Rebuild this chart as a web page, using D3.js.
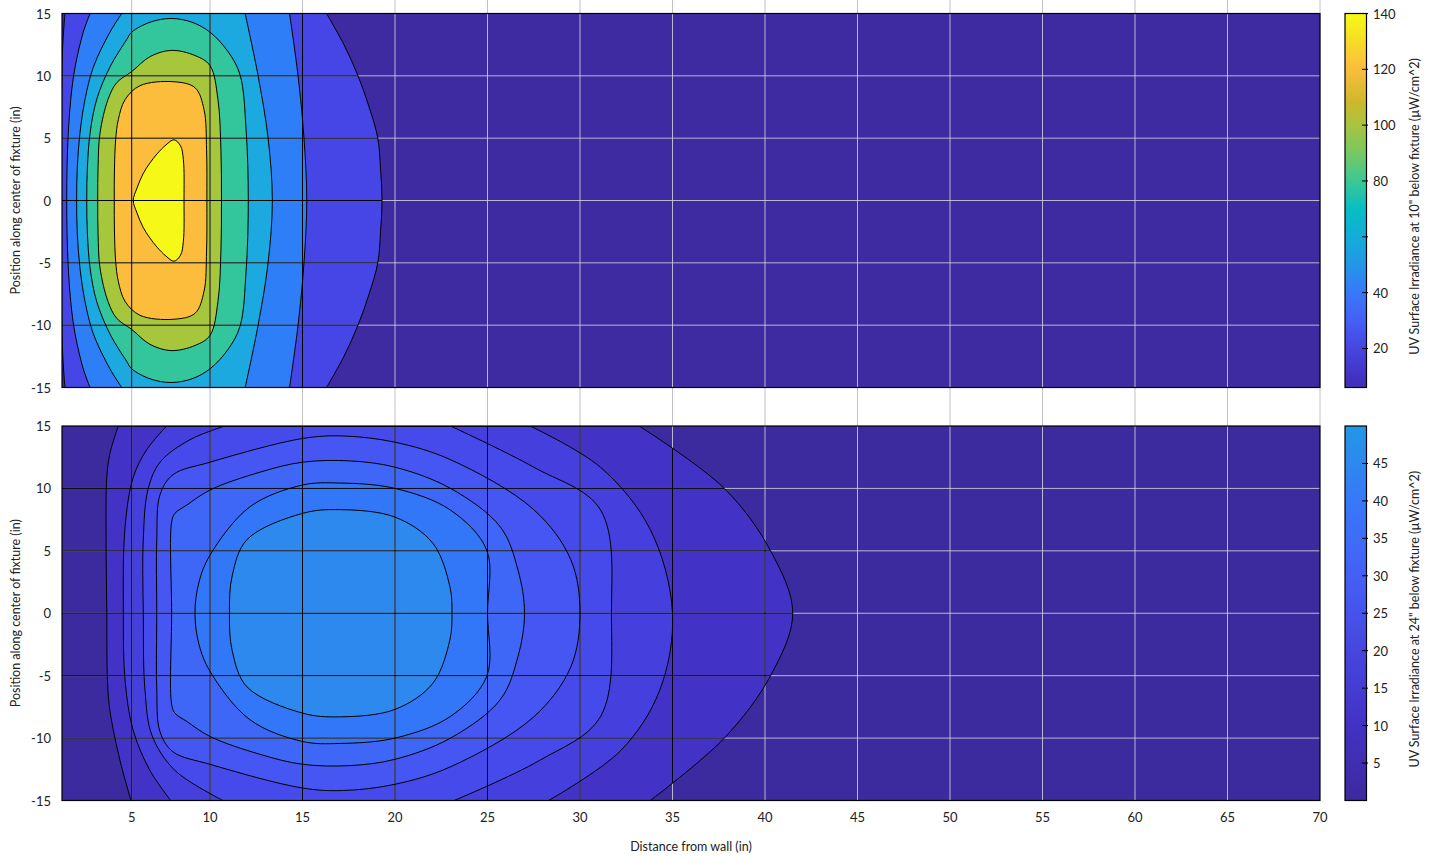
<!DOCTYPE html>
<html>
<head>
<meta charset="utf-8">
<script src="https://cdn.jsdelivr.net/npm/d3@7"></script>
<style>
body { margin: 0; background: #fff; }
text { font-family: Lato, "Noto Sans", sans-serif; fill: #222; }
</style>
</head>
<body>
<svg id="chart" width="1440" height="857"></svg>
<script>
var xTicks = [5, 10, 15, 20, 25, 30, 35, 40, 45, 50, 55, 60, 65, 70];
var yTicks = [-15, -10, -5, 0, 5, 10, 15];
var topBarTicks = [20, 40, 60, 80, 100, 120, 140];
var topBarLabels = ["20", "40", "", "80", "100", "120", "140"];
var botBarTicks = [5, 10, 15, 20, 25, 30, 35, 40, 45];

// contour lines, [distance, position]
// open contours run into the top and bottom edge: left and right side, each top to bottom
var topC1L = [[1.17,15],[1.06,12.9],[1.0,10.7],[1.0,-10.7],[1.06,-12.9],[1.17,-15]];
var topC1R = [[16.3,15],[17.24,12.5],[18.0,10],[18.6,7.5],[19.07,5],[19.22,2.5],[19.3,0],[19.22,-2.5],[19.07,-5],[18.6,-7.5],[18.0,-10],[17.24,-12.5],[16.3,-15]];
var topC2L = [[2.61,15],[2.22,13.5],[1.75,10.7],[1.5,8.1],[1.36,5.4],[1.29,2.7],[1.27,0],[1.29,-2.7],[1.36,-5.4],[1.5,-8.1],[1.75,-10.7],[2.22,-13.5],[2.61,-15]];
var topC2R = [[14.3,15],[14.76,10],[15.08,5],[15.23,0],[15.08,-5],[14.76,-10],[14.3,-15]];
var topC3L = [[4.43,15],[3.75,13.5],[2.8,10.7],[2.32,8.1],[2.03,5.4],[1.88,2.7],[1.84,0],[1.88,-2.7],[2.03,-5.4],[2.32,-8.1],[2.8,-10.7],[3.75,-13.5],[4.43,-15]];
var topC3R = [[11.9,15],[12.6,10],[13.14,5],[13.37,0],[13.14,-5],[12.6,-10],[11.9,-15]];
// closed contours
var topC4 = [[2.42,0],[2.46,2.7],[2.61,5.4],[2.99,8.1],[3.75,10.7],[4.71,12.9],[5.0,13.5],[6.17,14.3],[7.51,14.6],[8.85,14.3],[10.0,13.5],[10.97,11.95],[11.62,10.1],[11.95,5.7],[12.07,0],
             [11.95,-5.7],[11.62,-10.1],[10.97,-11.95],[10.0,-13.5],[8.85,-14.3],[7.51,-14.6],[6.17,-14.3],[5.0,-13.5],[4.71,-12.9],[3.75,-10.7],[2.99,-8.1],[2.61,-5.4],[2.46,-2.7]];
var topC5 = [[3.05,0],[3.07,2.7],[3.18,5.4],[3.64,8.1],[4.14,9.45],[5.0,10.34],[6.17,11.54],[7.51,12.04],[9.04,11.63],[10.0,10.82],[10.43,8.1],[10.59,4.06],[10.62,0],
             [10.59,-4.06],[10.43,-8.1],[10.0,-10.82],[9.04,-11.63],[7.51,-12.04],[6.17,-11.54],[5.0,-10.34],[4.14,-9.45],[3.64,-8.1],[3.18,-5.4],[3.07,-2.7]];
var topC6 = [[4.0,0],[4.01,2.45],[4.08,4.87],[4.23,6.48],[4.62,8.09],[5.53,9.21],[7.64,9.53],[9.04,9.05],[9.62,7.28],[9.78,4.06],[9.8,0],
             [9.78,-4.06],[9.62,-7.28],[9.04,-9.05],[7.64,-9.53],[5.53,-9.21],[4.62,-8.09],[4.23,-6.48],[4.08,-4.87],[4.01,-2.45]];
var topC7 = [[5.1,0],[5.34,1.0],[5.72,2.13],[6.17,3.02],[6.62,3.74],[7.19,4.46],[7.7,4.87],[8.12,4.38],[8.3,3.26],[8.34,0],
             [8.3,-3.26],[8.12,-4.38],[7.7,-4.87],[7.19,-4.46],[6.62,-3.74],[6.17,-3.02],[5.72,-2.13],[5.34,-1.0]];

var botC1L = [[4.23,15],[3.75,12.8],[3.57,10.9],[3.53,5.9],[3.57,0],[3.61,-5.4],[3.75,-7.8],[4.33,-11.8],[4.96,-15]];
var botC1R = [[33.2,15],[37.8,10],[40.3,5],[41.5,0],[40.3,-5],[37.8,-10],[33.8,-15]];
var botC2L = [[7.23,15],[5.96,13.1],[5.1,10.9],[4.62,6.9],[4.52,0],[4.62,-5.4],[5.1,-9.4],[6.17,-12.6],[7.49,-15]];
var botC2R = [[27.3,15],[31.1,11.7],[33.8,6.7],[35.0,0],[34.3,-6.2],[32.2,-11.0],[28.3,-15]];
var botC3L = [[10.8,15],[8.72,13.9],[6.81,12.1],[6.04,9.9],[5.74,5.9],[5.74,0],[5.85,-6.2],[6.3,-9.8],[7.77,-12.6],[10.7,-15]];
var botC3R = [[23.0,15],[27.5,11.7],[31.1,8.3],[31.7,0],[31.1,-8.3],[27.8,-11.8],[23.2,-15]];
var botC4 = [[6.6,0],[6.6,5.9],[6.81,9.5],[7.64,11.1],[10,12.1],[15,14.0],[17.2,14.2],[20,13.7],[23,12.3],[27.5,8.3],[29.5,4.3],[30,0],
             [29.5,-4.3],[27.5,-8.3],[23,-12.3],[20,-13.7],[17.2,-14.2],[15,-14.0],[10,-12.1],[7.64,-11.1],[6.81,-9.5],[6.6,-5.9]];
var botC5 = [[7.55,0],[7.55,7.3],[7.76,8.0],[8.51,8.66],[10,9.87],[12.7,11.3],[15,12.1],[17.6,12.2],[20,11.7],[23,10],[25.7,6.9],[26.65,3.45],[27.0,0],
             [26.65,-3.45],[25.7,-6.9],[23,-10],[20,-11.7],[17.6,-12.2],[15,-12.1],[12.7,-11.3],[10,-9.87],[8.51,-8.66],[7.76,-8.0],[7.55,-7.3]];
var botC6 = [[9.04,0],[9.3,2.5],[10,4.65],[12.16,8.53],[15,10.27],[17,10.43],[20,10],[23,8.26],[24.96,5.05],[25,0],
             [24.96,-5.05],[23,-8.26],[20,-10],[17,-10.43],[15,-10.27],[12.16,-8.53],[10,-4.65],[9.3,-2.5]];
var botC7 = [[11.05,0],[11.2,3],[12,5.9],[15,8.0],[17,8.3],[20,7.7],[22.05,5.6],[22.97,2.1],[23.08,0],
             [22.97,-2.1],[22.05,-5.6],[20,-7.7],[17,-8.3],[15,-8.0],[12,-5.9],[11.2,-3]];

var topContours = [{left: topC1L, right: topC1R}, {left: topC2L, right: topC2R}, {left: topC3L, right: topC3R}, topC4, topC5, topC6, topC7];
var botContours = [{left: botC1L, right: botC1R}, {left: botC2L, right: botC2R}, {left: botC3L, right: botC3R}, botC4, botC5, botC6, botC7];

// band colours, lowest first
var topFills = ["#3e2aa1", "#4646e6", "#2e7ff7", "#1ba9df", "#33c59c", "#a6c63b", "#fdbd3c", "#f6f917"];
var botFills = ["#3c2a9f", "#4232c6", "#4540dd", "#464aea", "#4556f2", "#3e66f7", "#3277f8", "#2d89ee"];

// colour map of the colour bars
var cmapStops = [0, 10, 20, 30, 40, 50, 60, 70, 80, 90, 100, 108, 120, 130, 140];
var cmapColors = ["#3d2a9e", "#4332c4", "#4646e0", "#4560f5", "#3878f8", "#2397e6", "#14acd8", "#06bec4",
                  "#3cc893", "#78c862", "#a8c440", "#ccb82c", "#fcbc3c", "#f6dc28", "#f8fa14"];

var svg = d3.select("#chart");
var defs = svg.append("defs");
var x = d3.scaleLinear().domain([1, 5, 10, 70]).range([62, 131.7, 210, 1320]);
var cmap = d3.scaleLinear().domain(cmapStops).range(cmapColors);

// grey grid runs above and between the panels
svg.append("g").selectAll("line").data(xTicks).join("line")
    .attr("x1", d => x(d)).attr("x2", d => x(d))
    .attr("y1", 0).attr("y2", 426)
    .attr("stroke", "#c2c2c2");

var panels = [
    {top: 13.5, bottom: 387.5, contours: topContours, fills: topFills, barDomain: [6, 140],
     barTicks: topBarTicks, barLabels: topBarLabels, barTitle: "UV Surface Irradiance at 10\" below fixture (µW/cm^2)"},
    {top: 426, bottom: 800.5, contours: botContours, fills: botFills, barDomain: [0, 50],
     barTicks: botBarTicks, barLabels: botBarTicks.map(String), barTitle: "UV Surface Irradiance at 24\" below fixture (µW/cm^2)"}
];

panels.forEach(function(p, i) {
    var y = d3.scaleLinear().domain([-15, 15]).range([p.bottom, p.top]);
    var openLine = d3.line().x(d => x(d[0])).y(d => y(d[1])).curve(d3.curveCatmullRom.alpha(0.5));
    var loopLine = d3.line().x(d => x(d[0])).y(d => y(d[1])).curve(d3.curveCatmullRomClosed.alpha(0.5));
    function shape(c) {
        if (Array.isArray(c)) return loopLine(c);
        return openLine(c.left) + openLine(c.right.slice().reverse()).replace("M", "L") + "Z";
    }

    defs.append("clipPath").attr("id", "plot" + i).append("rect")
        .attr("x", x(1)).attr("y", p.top)
        .attr("width", x(70) - x(1)).attr("height", p.bottom - p.top);
    // area that carries filled patches: left of the outermost contour
    var left = x(1) - 10;
    defs.append("clipPath").attr("id", "patch" + i).append("path")
        .attr("d", openLine(p.contours[0].right) + "L" + left + "," + (p.bottom + 10) + "L" + left + "," + (p.top - 10) + "Z");

    var g = svg.append("g").attr("clip-path", "url(#plot" + i + ")");
    g.append("rect")
        .attr("x", x(1)).attr("y", p.top)
        .attr("width", x(70) - x(1)).attr("height", p.bottom - p.top)
        .attr("fill", p.fills[0]);
    g.selectAll("path.band").data(p.contours).join("path")
        .attr("class", "band")
        .attr("d", shape)
        .attr("fill", (d, j) => p.fills[j + 1]);

    // grid: light over the bare background, black over the patches
    var gx = xTicks.filter(d => d < 70), gy = yTicks.filter(d => Math.abs(d) < 15);
    [["#d0d0d8", null], ["#000", "url(#patch" + i + ")"]].forEach(function(s) {
        var gg = g.append("g").attr("clip-path", s[1]);
        gg.selectAll("line.v").data(gx).join("line").attr("class", "v")
            .attr("x1", d => x(d)).attr("x2", d => x(d))
            .attr("y1", p.top).attr("y2", p.bottom)
            .attr("stroke", s[0]).attr("stroke-opacity", s[1] ? 1 : 0.85);
        gg.selectAll("line.h").data(gy).join("line").attr("class", "h")
            .attr("x1", x(1)).attr("x2", x(70))
            .attr("y1", d => y(d)).attr("y2", d => y(d))
            .attr("stroke", s[0]).attr("stroke-opacity", s[1] ? 1 : 0.85);
    });

    g.selectAll("path.line").data(p.contours).join("path")
        .attr("class", "line")
        .attr("d", shape)
        .attr("fill", "none")
        .attr("stroke", "#000")
        .attr("stroke-width", 1);

    svg.append("rect")
        .attr("x", x(1)).attr("y", p.top)
        .attr("width", x(70) - x(1)).attr("height", p.bottom - p.top)
        .attr("fill", "none").attr("stroke", "#000").attr("stroke-width", 1.2);

    svg.append("g").selectAll("text").data(yTicks).join("text")
        .attr("x", 51).attr("y", d => y(d))
        .attr("text-anchor", "end").attr("dominant-baseline", "central")
        .attr("font-size", 13)
        .text(d => d);

    svg.append("text")
        .attr("transform", "translate(15," + ((p.top + p.bottom) / 2) + ") rotate(-90)")
        .attr("text-anchor", "middle").attr("dominant-baseline", "central")
        .attr("font-size", 12.5)
        .text("Position along center of fixture (in)");

    // colour bar
    var cb = d3.scaleLinear().domain(p.barDomain).range([p.bottom, p.top]);
    var grad = defs.append("linearGradient").attr("id", "grad" + i)
        .attr("x1", 0).attr("y1", 1).attr("x2", 0).attr("y2", 0);
    grad.selectAll("stop").data(d3.range(0, 1.001, 0.02)).join("stop")
        .attr("offset", d => d)
        .attr("stop-color", d => cmap(p.barDomain[0] + d * (p.barDomain[1] - p.barDomain[0])));
    svg.append("rect")
        .attr("x", 1345).attr("y", p.top)
        .attr("width", 21.5).attr("height", p.bottom - p.top)
        .attr("fill", "url(#grad" + i + ")")
        .attr("stroke", "#000").attr("stroke-width", 1.2);
    svg.append("g").selectAll("line").data(p.barTicks).join("line")
        .attr("x1", 1362).attr("x2", 1368)
        .attr("y1", d => cb(d)).attr("y2", d => cb(d))
        .attr("stroke", "#000");
    svg.append("g").selectAll("text").data(p.barTicks).join("text")
        .attr("x", 1373).attr("y", d => cb(d))
        .attr("dominant-baseline", "central")
        .attr("font-size", 13)
        .text((d, j) => p.barLabels[j]);
    svg.append("text")
        .attr("transform", "translate(1414," + ((p.top + p.bottom) / 2 + 6) + ") rotate(-90)")
        .attr("text-anchor", "middle").attr("dominant-baseline", "central")
        .attr("font-size", 12.5)
        .text(p.barTitle);

    if (i === 1) {
        svg.append("g").selectAll("text").data(xTicks).join("text")
            .attr("x", d => x(d)).attr("y", 817)
            .attr("text-anchor", "middle").attr("dominant-baseline", "central")
            .attr("font-size", 13)
            .text(d => d);
        svg.append("text")
            .attr("x", (x(1) + x(70)) / 2).attr("y", 846)
            .attr("text-anchor", "middle").attr("dominant-baseline", "central")
            .attr("font-size", 12.5)
            .text("Distance from wall (in)");
    }
});
</script>
</body>
</html>
